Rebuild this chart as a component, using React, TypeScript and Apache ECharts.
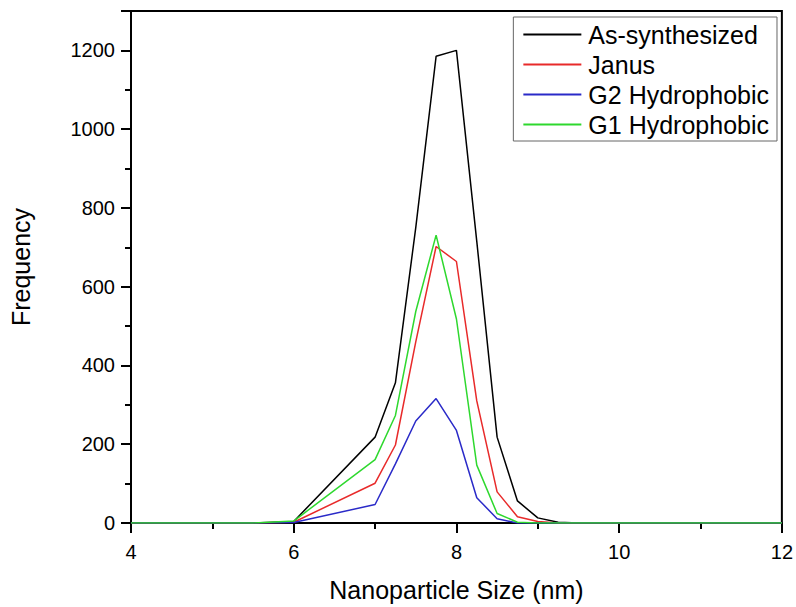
import React, { useEffect, useRef } from "react";
import * as echarts from "echarts";

const sizes = [4, 5, 5.5, 6, 7, 7.25, 7.5, 7.75, 8, 8.25, 8.5, 8.75, 9, 9.25, 9.5, 10, 11, 12];
const asSynthesized = [0, 0, 0, 4, 218, 356, 750, 1185, 1200, 715, 218, 56, 13, 2, 0, 0, 0, 0];
const janus = [0, 0, 0, 2, 101, 198, 460, 702, 664, 310, 79, 16, 4, 0, 0, 0, 0, 0];
const g2Hydrophobic = [0, 0, 0, 1, 47, 150, 259, 316, 235, 64, 11, 0, 0, 0, 0, 0, 0, 0];
const g1Hydrophobic = [0, 0, 0, 5, 161, 273, 537, 731, 518, 147, 24, 2, 0, 0, 0, 0, 0, 0];

const seriesNames = ["As-synthesized", "Janus", "G2 Hydrophobic", "G1 Hydrophobic"];
const seriesColors = ["#000000", "#e82a2a", "#2a2ac8", "#2ed82e"];
const seriesValues = [asSynthesized, janus, g2Hydrophobic, g1Hydrophobic];

const FONT = "Liberation Sans, Arial, sans-serif";

export default function App() {
  const ref = useRef<HTMLDivElement>(null);
  useEffect(() => {
    document.body.style.margin = "0";
    const chart = echarts.init(ref.current!, null, { renderer: "svg" });
    chart.setOption({
      animation: false,
      backgroundColor: "#ffffff",
      grid: {
        left: 130,
        right: 13,
        top: 11,
        bottom: 80,
        show: true,
        borderColor: "#000",
        borderWidth: 2,
      },
      legend: {
        orient: "vertical",
        right: 19,
        top: 17,
        icon: "rect",
        itemWidth: 58,
        itemHeight: 2,
        itemGap: 5,
        padding: [5, 8, 4, 10],
        borderColor: "#666",
        borderWidth: 1,
        textStyle: { fontFamily: FONT, fontSize: 25, color: "#000", padding: [0, 0, 0, 2] },
        data: seriesNames,
      },
      xAxis: {
        type: "value",
        min: 4,
        max: 12,
        interval: 2,
        name: "Nanoparticle Size (nm)",
        nameLocation: "middle",
        nameGap: 54,
        nameTextStyle: { fontFamily: FONT, fontSize: 25, color: "#000" },
        axisLine: { onZero: false, lineStyle: { color: "#000", width: 2 } },
        axisTick: { show: true, inside: false, length: 10, lineStyle: { color: "#000", width: 2 } },
        minorTick: { show: true, splitNumber: 2, length: 6, lineStyle: { color: "#000", width: 2 } },
        axisLabel: { fontFamily: FONT, fontSize: 20, color: "#000", margin: 19 },
        splitLine: { show: false },
      },
      yAxis: {
        type: "value",
        min: 0,
        max: 1300,
        interval: 200,
        name: "Frequency",
        nameLocation: "middle",
        nameGap: 98,
        nameTextStyle: { fontFamily: FONT, fontSize: 25, color: "#000" },
        axisLine: { lineStyle: { color: "#000", width: 2 } },
        axisTick: { show: true, inside: false, length: 10, lineStyle: { color: "#000", width: 2 } },
        minorTick: { show: true, splitNumber: 2, length: 6, lineStyle: { color: "#000", width: 2 } },
        axisLabel: {
          fontFamily: FONT,
          fontSize: 20,
          color: "#000",
          margin: 16,
          formatter: (v: number) => (v % 200 === 0 ? String(v) : ""),
        },
        splitLine: { show: false },
      },
      series: seriesNames.map((name, i) => ({
        name,
        type: "line",
        symbol: "none",
        color: seriesColors[i],
        lineStyle: { color: seriesColors[i], width: 1.5 },
        data: sizes.map((x, j) => [x, seriesValues[i][j]]),
      })),
    });
    return () => chart.dispose();
  }, []);
  return <div ref={ref} style={{ width: 796, height: 607 }} />;
}
